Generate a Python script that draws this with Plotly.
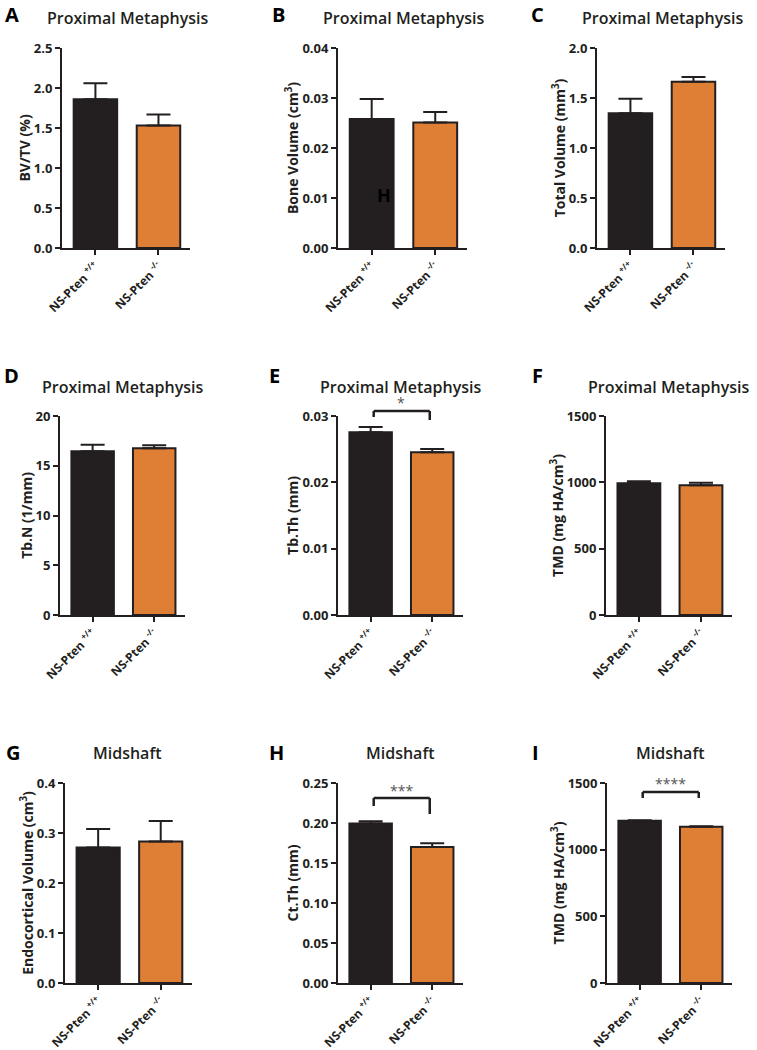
import plotly.graph_objects as go

W, H = 757, 1050

# groups
groups = ["NS-Pten <sup>+/+</sup>", "NS-Pten <sup>-/-</sup>"]
bar_colors = ["#231f20", "#df7f36"]

# panel letters, titles, y titles
letters = ["A", "B", "C", "D", "E", "F", "G", "H", "I"]
titles = ["Proximal Metaphysis"] * 6 + ["Midshaft"] * 3
ytitles = [
    "BV/TV (%)",
    "Bone Volume (cm<sup>3</sup>)",
    "Total Volume (mm<sup>3</sup>)",
    "Tb.N (1/mm)",
    "Tb.Th (mm)",
    "TMD (mg HA/cm<sup>3</sup>)",
    "Endocortical Volume (cm<sup>3</sup>)",
    "Ct.Th (mm)",
    "TMD (mg HA/cm<sup>3</sup>)",
]

# means and SEM (upper error)
bvtv = [1.86, 1.53]
bvtv_sem = [0.20, 0.14]
bone_vol = [0.0258, 0.0251]
bone_vol_sem = [0.0040, 0.0021]
total_vol = [1.347, 1.663]
total_vol_sem = [0.146, 0.047]
tbn = [16.45, 16.75]
tbn_sem = [0.67, 0.31]
tbth = [0.02754, 0.02453]
tbth_sem = [0.0008, 0.0005]
tmd_pm = [993, 978]
tmd_pm_sem = [15, 18]
endo_vol = [0.271, 0.283]
endo_vol_sem = [0.037, 0.041]
ctth = [0.1994, 0.1701]
ctth_sem = [0.0029, 0.0047]
tmd_mid = [1216, 1171]
tmd_mid_sem = [5, 5]

values = [bvtv, bone_vol, total_vol, tbn, tbth, tmd_pm, endo_vol, ctth, tmd_mid]
sems = [bvtv_sem, bone_vol_sem, total_vol_sem, tbn_sem, tbth_sem, tmd_pm_sem,
        endo_vol_sem, ctth_sem, tmd_mid_sem]

# axis setup
ymax = [2.5, 0.04, 2.0, 20, 0.03, 1500, 0.4, 0.25, 1500]
dticks = [0.5, 0.01, 0.5, 5, 0.01, 500, 0.1, 0.05, 500]
formats = [".1f", ".2f", ".1f", "d", ".2f", "d", ".1f", ".2f", "d"]

# significance: panel index -> stars
signif = {4: "*", 7: "***", 8: "****"}

# plot area boxes in pixels (left, right, top, bottom)
boxes = [
    (62, 190, 48, 248), (338, 467, 48, 248), (597, 725, 48, 248),
    (60, 185, 416, 615), (338, 463, 416, 615), (606, 732, 416, 615),
    (65, 192, 783, 983), (338, 463, 783, 983), (607, 732, 783, 983),
]
title_pos = [
    (127, 18), (403, 18), (662, 18),
    (122, 387), (400, 387), (668, 387),
    (127, 753), (400, 753), (670, 753),
]
letter_pos = [
    (12, 15), (278, 15), (537, 15),
    (11, 376), (274, 376), (537, 376),
    (13, 752), (276, 752), (535, 752),
]
# bracket geometry in y-domain units: (top, left leg end, right leg end, star)
bracket = {
    4: (1.025, 0.995, 0.98, 1.01),
    7: (0.925, 0.885, 0.845, 0.905),
    8: (0.955, 0.925, 0.925, 0.94),
}

ink = "#231f20"
font_family = "'Open Sans', Arial, sans-serif"

fig = go.Figure()
layout = dict(
    width=W, height=H,
    margin=dict(l=0, r=0, t=0, b=0, autoexpand=False),
    paper_bgcolor="white", plot_bgcolor="white",
    showlegend=False,
    font=dict(family=font_family, color=ink),
)
annotations = []
shapes = []

for i in range(9):
    n = i + 1
    xa = "x" if n == 1 else f"x{n}"
    ya = "y" if n == 1 else f"y{n}"
    l, r, t, b = boxes[i]

    fig.add_trace(go.Bar(
        x=[0, 1], y=values[i],
        width=0.69,
        marker=dict(color=bar_colors, line=dict(color=ink, width=2)),
        error_y=dict(type="data", symmetric=False, array=sems[i], arrayminus=[0, 0],
                     color=ink, thickness=2, width=12),
        xaxis=xa, yaxis=ya,
    ))

    layout["xaxis" if n == 1 else f"xaxis{n}"] = dict(
        domain=[l / W, r / W], anchor=ya, automargin=False,
        range=[-0.53, 1.5], tickmode="array", tickvals=[0, 1], ticktext=groups,
        tickangle=-45, ticks="outside", ticklen=5, tickwidth=2, tickcolor=ink,
        showline=True, linewidth=2, linecolor=ink, showgrid=False, zeroline=False,
        tickfont=dict(size=12, weight=700, color=ink),
        fixedrange=True,
    )
    layout["yaxis" if n == 1 else f"yaxis{n}"] = dict(
        domain=[1 - b / H, 1 - t / H], anchor=xa, automargin=False,
        range=[0, ymax[i]], dtick=dticks[i], tick0=0, tickformat=formats[i],
        ticks="outside", ticklen=5, tickwidth=2, tickcolor=ink,
        showline=True, linewidth=2, linecolor=ink, showgrid=False, zeroline=False,
        tickfont=dict(size=13, weight=700, color=ink),
        title=dict(text=ytitles[i], standoff=0, font=dict(size=14, weight=700, color=ink)),
        fixedrange=True,
    )

    tx, ty = title_pos[i]
    annotations.append(dict(
        text=titles[i], x=tx / W, y=1 - ty / H, xref="paper", yref="paper",
        xanchor="center", yanchor="middle", showarrow=False,
        font=dict(size=16, weight=600, color=ink),
    ))
    lx, ly = letter_pos[i]
    annotations.append(dict(
        text=letters[i], x=lx / W, y=1 - ly / H, xref="paper", yref="paper",
        xanchor="center", yanchor="middle", showarrow=False,
        font=dict(size=20, weight=700, color="black"),
    ))

    if i in signif:
        top, l0, l1, sy = bracket[i]
        yd = f"{ya} domain"
        bx0, bx1 = 0.05, 0.96
        for path in [
            dict(x0=bx0, x1=bx1, y0=top, y1=top),
            dict(x0=bx0, x1=bx0, y0=top, y1=l0),
            dict(x0=bx1, x1=bx1, y0=top, y1=l1),
        ]:
            shapes.append(dict(type="line", xref=xa, yref=yd,
                               line=dict(color=ink, width=2.5), **path))
        annotations.append(dict(
            text=signif[i], x=0.5, y=sy, xref=xa, yref=yd,
            xanchor="center", yanchor="bottom", showarrow=False,
            font=dict(size=14, color="#555555"),
        ))

# stray letter in panel B
annotations.append(dict(
    text="H", x=384 / W, y=1 - 195 / H, xref="paper", yref="paper",
    xanchor="center", yanchor="middle", showarrow=False,
    font=dict(size=18, weight=700, color="black"),
))

layout["annotations"] = annotations
layout["shapes"] = shapes
fig.update_layout(**layout)

fig.write_html("out.html", config={"displayModeBar": False},
               post_script="document.body.style.margin='0';")
